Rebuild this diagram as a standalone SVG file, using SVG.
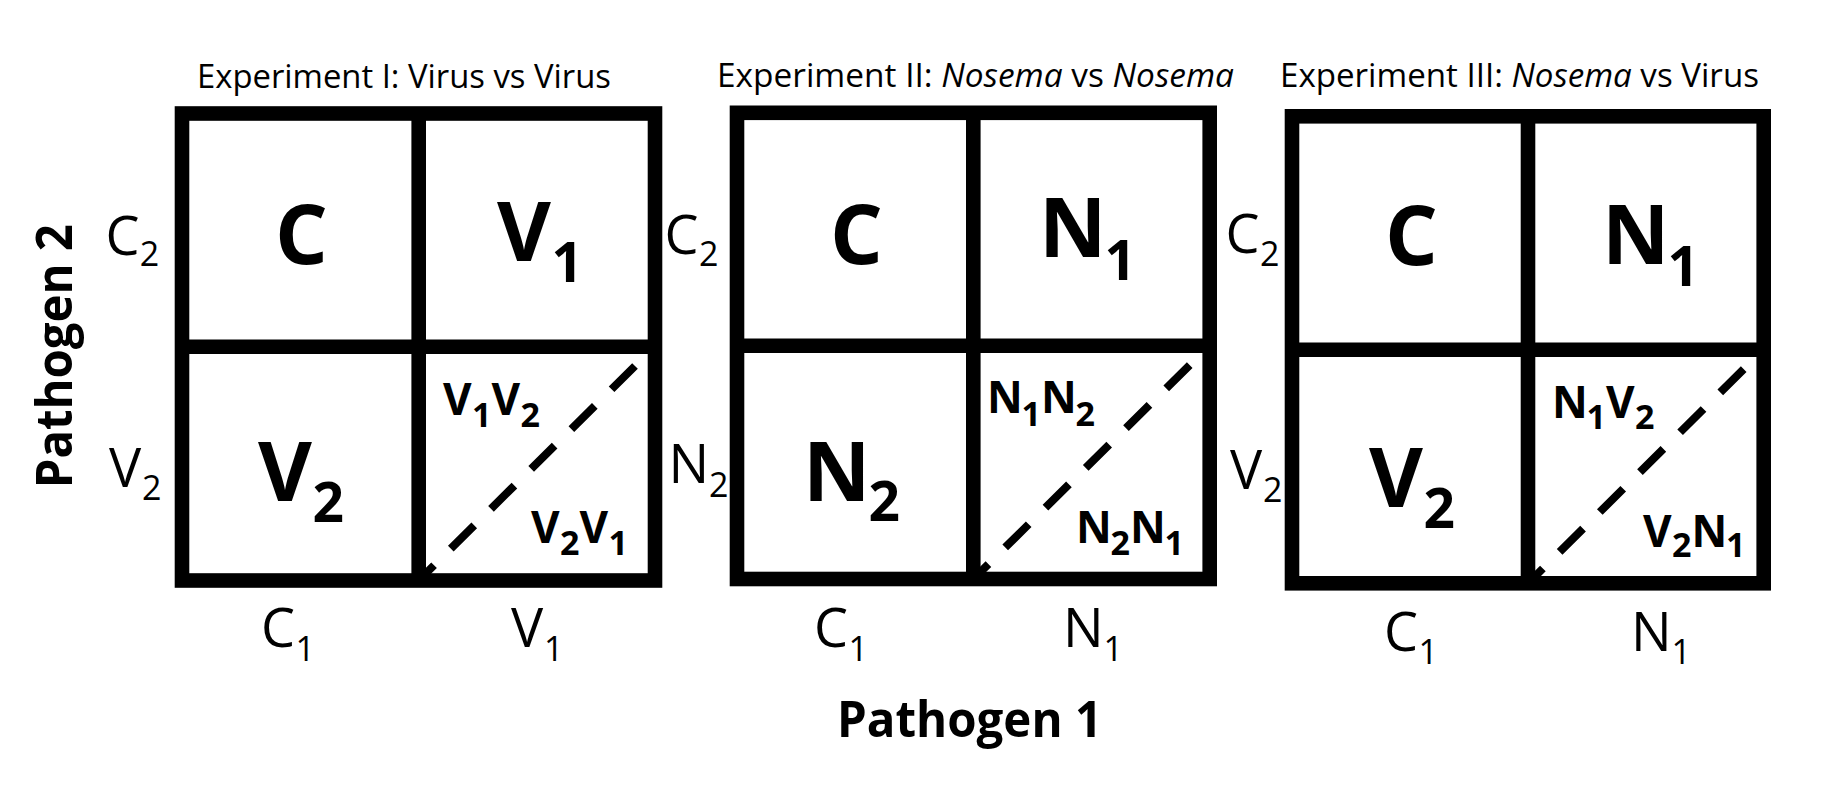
<svg xmlns="http://www.w3.org/2000/svg" width="1839" height="798" viewBox="0 0 1839 798">
<style>
text{font-family:"Open Sans","Noto Sans","Liberation Sans",sans-serif;fill:#000}
.t{font-size:32px}
.i{font-style:italic}
.ax{font-size:54px}
.axs{font-size:34px}
.big{font-size:83px;font-weight:bold}
.bigs{font-size:55px;font-weight:bold}
.sm{font-size:44px;font-weight:bold}
.sms{font-size:34px;font-weight:bold}
.path{font-size:51px;font-weight:bold}
.frame{fill:none;stroke:#000;stroke-width:14.6}
.div{stroke:#000;stroke-width:14.6}
.dash{stroke:#000;stroke-width:8;stroke-dasharray:33 23.6;fill:none}
</style>
<rect width="1839" height="798" fill="#fff"/>

<g id="axis-pathogen2">
<text class="path" text-anchor="middle" transform="translate(71.7,356.2) rotate(-90)" textLength="264" lengthAdjust="spacingAndGlyphs">Pathogen 2</text>
</g>
<g id="axis-pathogen1">
<text class="path" x="837" y="737.3" textLength="265" lengthAdjust="spacingAndGlyphs">Pathogen 1</text>
</g>

<g id="panel1">
<text class="t" x="197" y="87.6" textLength="414" lengthAdjust="spacingAndGlyphs">Experiment I: Virus vs Virus</text>
<rect class="frame" x="182" y="113.5" width="473" height="467"/>
<line class="div" x1="418.7" y1="113.5" x2="418.7" y2="580.5"/>
<line class="div" x1="182" y1="346.7" x2="655" y2="346.7"/>
<text><tspan class="ax" x="105.5" y="254.5">C</tspan><tspan class="axs" x="139.7" y="266">2</tspan></text>
<text><tspan class="ax" x="109" y="486.7">V</tspan><tspan class="axs" x="142" y="500">2</tspan></text>
<text><tspan class="ax" x="261" y="647.3">C</tspan><tspan class="axs" x="295.5" y="660.7">1</tspan></text>
<text><tspan class="ax" x="511" y="647.3">V</tspan><tspan class="axs" x="544" y="660.7">1</tspan></text>
<text><tspan class="big" x="275" y="264">C</tspan></text>
<text><tspan class="big" x="497" y="261">V</tspan><tspan class="bigs" x="551.5" y="281.7">1</tspan></text>
<text><tspan class="big" x="258" y="500.7">V</tspan><tspan class="bigs" x="312.5" y="522">2</tspan></text>
<text><tspan class="sm" x="443" y="415">V</tspan><tspan class="sms" x="472" y="427.3">1</tspan><tspan class="sm" x="491.5" y="415">V</tspan><tspan class="sms" x="520.5" y="427.3">2</tspan></text>
<text><tspan class="sm" x="531" y="543.3">V</tspan><tspan class="sms" x="560" y="555">2</tspan><tspan class="sm" x="579.5" y="543.3">V</tspan><tspan class="sms" x="608.5" y="555">1</tspan></text>
</g>

<g id="panel2">
<text class="t" x="717" y="87.4" textLength="517" lengthAdjust="spacingAndGlyphs">Experiment II: <tspan class="i">Nosema</tspan> vs <tspan class="i">Nosema</tspan></text>
<rect class="frame" x="737" y="112.8" width="472.7" height="466.2"/>
<line class="div" x1="973.3" y1="112.8" x2="973.3" y2="579"/>
<line class="div" x1="737" y1="345.8" x2="1209.7" y2="345.8"/>
<text><tspan class="ax" x="664.5" y="254">C</tspan><tspan class="axs" x="699" y="266">2</tspan></text>
<text><tspan class="ax" x="668.5" y="483.3">N</tspan><tspan class="axs" x="709" y="496.7">2</tspan></text>
<text><tspan class="ax" x="814" y="647">C</tspan><tspan class="axs" x="848.5" y="660.5">1</tspan></text>
<text><tspan class="ax" x="1063" y="647">N</tspan><tspan class="axs" x="1103.5" y="660.5">1</tspan></text>
<text><tspan class="big" x="830" y="263.5">C</tspan></text>
<text><tspan class="big" x="1039" y="256.7">N</tspan><tspan class="bigs" x="1104.5" y="280">1</tspan></text>
<text><tspan class="big" x="803" y="500.7">N</tspan><tspan class="bigs" x="868.5" y="521">2</tspan></text>
<text><tspan class="sm" x="987" y="413.4">N</tspan><tspan class="sms" x="1021.5" y="426">1</tspan><tspan class="sm" x="1041" y="413.4">N</tspan><tspan class="sms" x="1075.5" y="426">2</tspan></text>
<text><tspan class="sm" x="1076" y="542.7">N</tspan><tspan class="sms" x="1110.5" y="555.3">2</tspan><tspan class="sm" x="1130" y="542.7">N</tspan><tspan class="sms" x="1164.5" y="555.3">1</tspan></text>
</g>

<g id="panel3">
<text class="t" x="1280" y="87.4" textLength="479" lengthAdjust="spacingAndGlyphs">Experiment III: <tspan class="i">Nosema</tspan> vs Virus</text>
<rect class="frame" x="1292" y="116.3" width="471.7" height="467"/>
<line class="div" x1="1528" y1="116.3" x2="1528" y2="583.3"/>
<line class="div" x1="1292" y1="349.8" x2="1763.7" y2="349.8"/>
<text><tspan class="ax" x="1225.5" y="253.3">C</tspan><tspan class="axs" x="1260" y="266">2</tspan></text>
<text><tspan class="ax" x="1230" y="488.8">V</tspan><tspan class="axs" x="1263" y="502">2</tspan></text>
<text><tspan class="ax" x="1384" y="651">C</tspan><tspan class="axs" x="1418.5" y="663.7">1</tspan></text>
<text><tspan class="ax" x="1631" y="651">N</tspan><tspan class="axs" x="1671.5" y="663.7">1</tspan></text>
<text><tspan class="big" x="1385" y="265">C</tspan></text>
<text><tspan class="big" x="1602" y="264.4">N</tspan><tspan class="bigs" x="1667.5" y="286">1</tspan></text>
<text><tspan class="big" x="1369" y="506.8">V</tspan><tspan class="bigs" x="1423.5" y="527.6">2</tspan></text>
<text><tspan class="sm" x="1552" y="418.3">N</tspan><tspan class="sms" x="1586.5" y="429.3">1</tspan><tspan class="sm" x="1606" y="418.3">V</tspan><tspan class="sms" x="1635" y="429.3">2</tspan></text>
<text><tspan class="sm" x="1643" y="546.7">V</tspan><tspan class="sms" x="1672" y="557.3">2</tspan><tspan class="sm" x="1691.5" y="546.7">N</tspan><tspan class="sms" x="1726" y="557.3">1</tspan></text>
</g>

<g id="connectors">
<line class="dash" x1="635" y1="366" x2="418.7" y2="580.5"/>
<line class="dash" x1="1189.7" y1="365.1" x2="973.3" y2="579"/>
<line class="dash" x1="1743.7" y1="369.1" x2="1528" y2="583.3"/>
</g>
</svg>
